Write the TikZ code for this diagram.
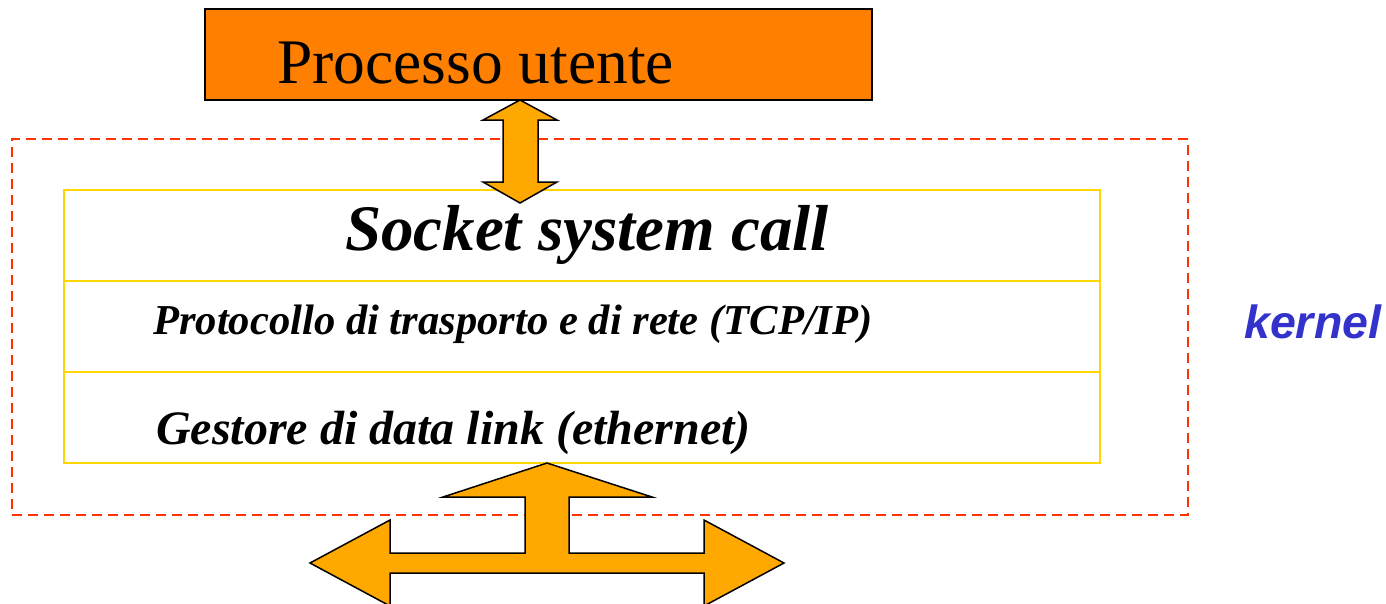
\documentclass[tikz,border=0pt]{standalone}
\usepackage{fontspec}
\setmainfont{Liberation Serif}
\newfontfamily\arialfont{Liberation Sans}
\definecolor{procorange}{RGB}{255,128,0}
\definecolor{arroworange}{RGB}{255,168,0}
\definecolor{kred}{RGB}{255,51,0}
\definecolor{ygold}{RGB}{255,214,0}
\definecolor{kblue}{RGB}{51,51,204}
\tikzset{
  layerbox/.style={draw=ygold, line width=2pt, minimum width=1036pt, minimum height=91pt, inner sep=0pt},
  blockarrow/.style={fill=arroworange, draw=black, line width=1.5pt, line join=miter},
  layertext/.style={anchor=base west, inner sep=0pt, font=\bfseries\itshape},
}
\begin{document}
\begin{tikzpicture}[x=1pt,y=-1pt]
\useasboundingbox (0,0) rectangle (1386,603);
\clip (0,0) rectangle (1386,603);

% kernel dashed region
\node[draw=kred, dashed, dash pattern=on 10pt off 6pt, line width=2pt, minimum width=1176pt, minimum height=376pt, inner sep=0pt] (kernelbox) at (600,327) {};

% layers
\node[layerbox] (socket) at (582,235.5) {};
\node[layerbox] (proto) at (582,326.5) {};
\node[layerbox] (datalink) at (582,417) {};

% process box
\node[draw=black, fill=procorange, line width=2pt, minimum width=667pt, minimum height=91pt, inner sep=0pt] (proc) at (538.5,54.5) {};
\node[anchor=base west, inner sep=0pt, font=\fontsize{63.5}{70}\selectfont] (proctext) at (277,83) {Processo utente};

% up-down arrow
\draw[blockarrow] (520,100) -- (557,120) -- (538,120) -- (538,182) -- (557,182) -- (520,203) -- (483,182) -- (503,182) -- (503,120) -- (483,120) -- cycle;

% bottom T arrow
\draw[blockarrow] (547,463) -- (652,497) -- (569,497) -- (569,553) -- (704,553) -- (704,520) -- (784,563) -- (704,606) -- (704,573)
  -- (390,573) -- (390,606) -- (310,563) -- (390,520) -- (390,553) -- (525,553) -- (525,497) -- (443,497) -- cycle;

% texts
\node[anchor=base, inner sep=0pt, font=\bfseries\itshape\fontsize{65}{72}\selectfont] (sockettext) at (587,250) {Socket system call};
\node[layertext, font=\bfseries\itshape\fontsize{42.6}{48}\selectfont] (prototext) at (153,334.5) {Protocollo di trasporto e di rete (TCP/IP)};
\node[layertext, font=\bfseries\itshape\fontsize{48}{54}\selectfont] (dltext) at (156,444) {Gestore di data link (ethernet)};

\node[anchor=base west, inner sep=0pt, text=kblue, font=\arialfont\bfseries\itshape\fontsize{46.5}{52}\selectfont] (kernel) at (1244,338) {kernel};
\end{tikzpicture}
\end{document}
